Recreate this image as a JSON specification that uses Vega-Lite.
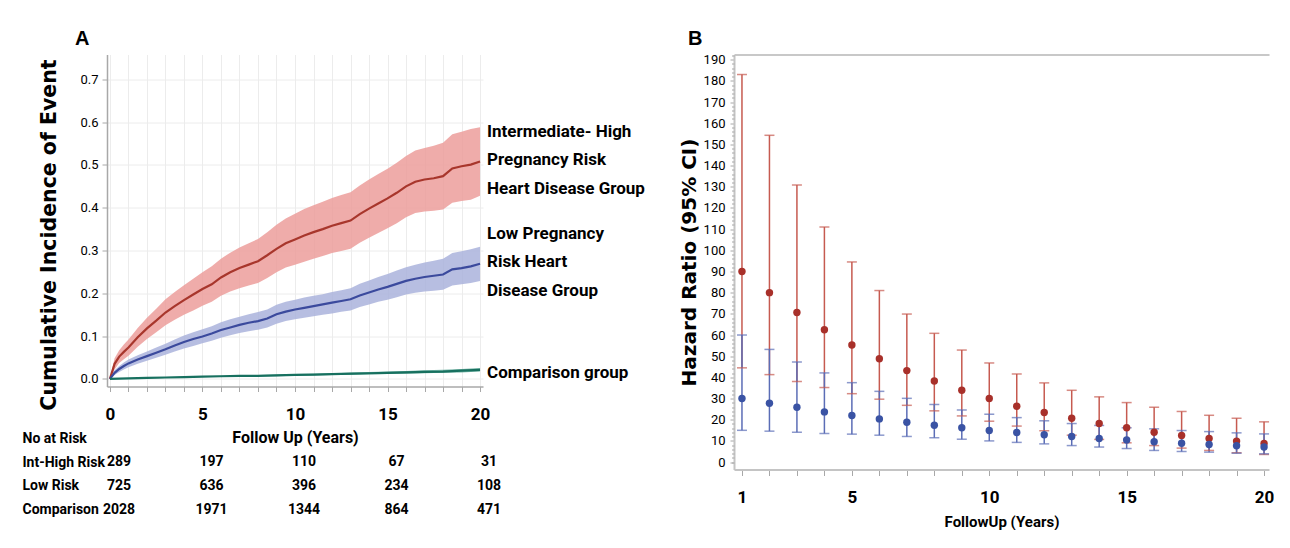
{
  "$schema": "https://vega.github.io/schema/vega-lite/v6.json",
  "background": "white",
  "padding": {"left": 22, "top": 28.5, "right": 0, "bottom": 0},
  "config": {
    "view": {"stroke": null},
    "axis": {"domainColor": "#a8a8a8", "tickColor": "#a8a8a8", "labelColor": "#000000", "titleColor": "#000000", "grid": false, "labelOverlap": false, "labelFlush": false}
  },
  "datasets": {
    "curves": [
      {"g": "High", "t": 0, "est": 0, "lo": 0, "hi": 0},
      {"g": "High", "t": 0.25, "est": 0.035, "lo": 0.022, "hi": 0.048},
      {"g": "High", "t": 0.5, "est": 0.052, "lo": 0.037, "hi": 0.067},
      {"g": "High", "t": 0.75, "est": 0.063, "lo": 0.046, "hi": 0.08},
      {"g": "High", "t": 1, "est": 0.073, "lo": 0.054, "hi": 0.092},
      {"g": "High", "t": 1.5, "est": 0.097, "lo": 0.075, "hi": 0.119},
      {"g": "High", "t": 2, "est": 0.118, "lo": 0.093, "hi": 0.143},
      {"g": "High", "t": 2.5, "est": 0.136, "lo": 0.109, "hi": 0.164},
      {"g": "High", "t": 3, "est": 0.155, "lo": 0.125, "hi": 0.186},
      {"g": "High", "t": 3.5, "est": 0.17, "lo": 0.138, "hi": 0.203},
      {"g": "High", "t": 4, "est": 0.184, "lo": 0.15, "hi": 0.219},
      {"g": "High", "t": 4.5, "est": 0.197, "lo": 0.16, "hi": 0.234},
      {"g": "High", "t": 5, "est": 0.21, "lo": 0.171, "hi": 0.249},
      {"g": "High", "t": 5.5, "est": 0.221, "lo": 0.18, "hi": 0.263},
      {"g": "High", "t": 6, "est": 0.237, "lo": 0.194, "hi": 0.281},
      {"g": "High", "t": 6.5, "est": 0.249, "lo": 0.204, "hi": 0.295},
      {"g": "High", "t": 7, "est": 0.259, "lo": 0.212, "hi": 0.307},
      {"g": "High", "t": 7.5, "est": 0.267, "lo": 0.218, "hi": 0.317},
      {"g": "High", "t": 8, "est": 0.275, "lo": 0.224, "hi": 0.327},
      {"g": "High", "t": 8.5, "est": 0.289, "lo": 0.236, "hi": 0.343},
      {"g": "High", "t": 9, "est": 0.304, "lo": 0.249, "hi": 0.36},
      {"g": "High", "t": 9.5, "est": 0.317, "lo": 0.26, "hi": 0.375},
      {"g": "High", "t": 10, "est": 0.326, "lo": 0.267, "hi": 0.386},
      {"g": "High", "t": 10.5, "est": 0.335, "lo": 0.274, "hi": 0.397},
      {"g": "High", "t": 11, "est": 0.343, "lo": 0.281, "hi": 0.406},
      {"g": "High", "t": 11.5, "est": 0.35, "lo": 0.287, "hi": 0.414},
      {"g": "High", "t": 12, "est": 0.358, "lo": 0.294, "hi": 0.423},
      {"g": "High", "t": 12.5, "est": 0.364, "lo": 0.299, "hi": 0.43},
      {"g": "High", "t": 13, "est": 0.37, "lo": 0.304, "hi": 0.436},
      {"g": "High", "t": 13.5, "est": 0.385, "lo": 0.318, "hi": 0.452},
      {"g": "High", "t": 14, "est": 0.398, "lo": 0.33, "hi": 0.466},
      {"g": "High", "t": 14.5, "est": 0.41, "lo": 0.341, "hi": 0.479},
      {"g": "High", "t": 15, "est": 0.422, "lo": 0.352, "hi": 0.491},
      {"g": "High", "t": 15.5, "est": 0.435, "lo": 0.364, "hi": 0.505},
      {"g": "High", "t": 16, "est": 0.45, "lo": 0.378, "hi": 0.521},
      {"g": "High", "t": 16.5, "est": 0.461, "lo": 0.388, "hi": 0.534},
      {"g": "High", "t": 17, "est": 0.466, "lo": 0.391, "hi": 0.54},
      {"g": "High", "t": 17.5, "est": 0.469, "lo": 0.393, "hi": 0.545},
      {"g": "High", "t": 18, "est": 0.474, "lo": 0.396, "hi": 0.552},
      {"g": "High", "t": 18.5, "est": 0.492, "lo": 0.412, "hi": 0.572},
      {"g": "High", "t": 19, "est": 0.497, "lo": 0.416, "hi": 0.578},
      {"g": "High", "t": 19.5, "est": 0.501, "lo": 0.419, "hi": 0.584},
      {"g": "High", "t": 20, "est": 0.508, "lo": 0.428, "hi": 0.588},
      {"g": "Low", "t": 0, "est": 0, "lo": 0, "hi": 0},
      {"g": "Low", "t": 0.25, "est": 0.014, "lo": 0.009, "hi": 0.02},
      {"g": "Low", "t": 0.5, "est": 0.023, "lo": 0.016, "hi": 0.03},
      {"g": "Low", "t": 0.75, "est": 0.03, "lo": 0.022, "hi": 0.038},
      {"g": "Low", "t": 1, "est": 0.036, "lo": 0.027, "hi": 0.045},
      {"g": "Low", "t": 1.5, "est": 0.045, "lo": 0.035, "hi": 0.055},
      {"g": "Low", "t": 2, "est": 0.053, "lo": 0.042, "hi": 0.064},
      {"g": "Low", "t": 2.5, "est": 0.061, "lo": 0.049, "hi": 0.073},
      {"g": "Low", "t": 3, "est": 0.069, "lo": 0.056, "hi": 0.082},
      {"g": "Low", "t": 3.5, "est": 0.078, "lo": 0.064, "hi": 0.092},
      {"g": "Low", "t": 4, "est": 0.086, "lo": 0.071, "hi": 0.101},
      {"g": "Low", "t": 4.5, "est": 0.093, "lo": 0.077, "hi": 0.109},
      {"g": "Low", "t": 5, "est": 0.099, "lo": 0.083, "hi": 0.116},
      {"g": "Low", "t": 5.5, "est": 0.106, "lo": 0.089, "hi": 0.123},
      {"g": "Low", "t": 6, "est": 0.114, "lo": 0.096, "hi": 0.132},
      {"g": "Low", "t": 6.5, "est": 0.12, "lo": 0.102, "hi": 0.139},
      {"g": "Low", "t": 7, "est": 0.126, "lo": 0.107, "hi": 0.145},
      {"g": "Low", "t": 7.5, "est": 0.131, "lo": 0.111, "hi": 0.151},
      {"g": "Low", "t": 8, "est": 0.135, "lo": 0.115, "hi": 0.156},
      {"g": "Low", "t": 8.5, "est": 0.141, "lo": 0.12, "hi": 0.162},
      {"g": "Low", "t": 9, "est": 0.151, "lo": 0.129, "hi": 0.173},
      {"g": "Low", "t": 9.5, "est": 0.157, "lo": 0.135, "hi": 0.18},
      {"g": "Low", "t": 10, "est": 0.162, "lo": 0.139, "hi": 0.185},
      {"g": "Low", "t": 10.5, "est": 0.166, "lo": 0.143, "hi": 0.19},
      {"g": "Low", "t": 11, "est": 0.17, "lo": 0.146, "hi": 0.194},
      {"g": "Low", "t": 11.5, "est": 0.174, "lo": 0.15, "hi": 0.198},
      {"g": "Low", "t": 12, "est": 0.178, "lo": 0.153, "hi": 0.203},
      {"g": "Low", "t": 12.5, "est": 0.182, "lo": 0.157, "hi": 0.207},
      {"g": "Low", "t": 13, "est": 0.186, "lo": 0.16, "hi": 0.212},
      {"g": "Low", "t": 13.5, "est": 0.195, "lo": 0.168, "hi": 0.222},
      {"g": "Low", "t": 14, "est": 0.202, "lo": 0.174, "hi": 0.23},
      {"g": "Low", "t": 14.5, "est": 0.209, "lo": 0.18, "hi": 0.238},
      {"g": "Low", "t": 15, "est": 0.215, "lo": 0.185, "hi": 0.245},
      {"g": "Low", "t": 15.5, "est": 0.222, "lo": 0.191, "hi": 0.253},
      {"g": "Low", "t": 16, "est": 0.229, "lo": 0.197, "hi": 0.261},
      {"g": "Low", "t": 16.5, "est": 0.234, "lo": 0.201, "hi": 0.267},
      {"g": "Low", "t": 17, "est": 0.238, "lo": 0.204, "hi": 0.272},
      {"g": "Low", "t": 17.5, "est": 0.241, "lo": 0.206, "hi": 0.276},
      {"g": "Low", "t": 18, "est": 0.244, "lo": 0.208, "hi": 0.281},
      {"g": "Low", "t": 18.5, "est": 0.256, "lo": 0.218, "hi": 0.294},
      {"g": "Low", "t": 19, "est": 0.259, "lo": 0.221, "hi": 0.298},
      {"g": "Low", "t": 19.5, "est": 0.263, "lo": 0.224, "hi": 0.303},
      {"g": "Low", "t": 20, "est": 0.269, "lo": 0.229, "hi": 0.309},
      {"g": "Comp", "t": 0, "est": 0, "lo": 0, "hi": 0},
      {"g": "Comp", "t": 1, "est": 0.001, "lo": 0.0, "hi": 0.002},
      {"g": "Comp", "t": 2, "est": 0.002, "lo": 0.001, "hi": 0.003},
      {"g": "Comp", "t": 3, "est": 0.003, "lo": 0.002, "hi": 0.004},
      {"g": "Comp", "t": 4, "est": 0.004, "lo": 0.003, "hi": 0.005},
      {"g": "Comp", "t": 5, "est": 0.005, "lo": 0.004, "hi": 0.006},
      {"g": "Comp", "t": 6, "est": 0.006, "lo": 0.004, "hi": 0.007},
      {"g": "Comp", "t": 7, "est": 0.007, "lo": 0.005, "hi": 0.008},
      {"g": "Comp", "t": 8, "est": 0.007, "lo": 0.006, "hi": 0.009},
      {"g": "Comp", "t": 9, "est": 0.008, "lo": 0.006, "hi": 0.01},
      {"g": "Comp", "t": 10, "est": 0.009, "lo": 0.007, "hi": 0.011},
      {"g": "Comp", "t": 11, "est": 0.01, "lo": 0.008, "hi": 0.012},
      {"g": "Comp", "t": 12, "est": 0.011, "lo": 0.009, "hi": 0.013},
      {"g": "Comp", "t": 13, "est": 0.012, "lo": 0.009, "hi": 0.014},
      {"g": "Comp", "t": 14, "est": 0.013, "lo": 0.01, "hi": 0.016},
      {"g": "Comp", "t": 15, "est": 0.014, "lo": 0.011, "hi": 0.017},
      {"g": "Comp", "t": 16, "est": 0.015, "lo": 0.012, "hi": 0.018},
      {"g": "Comp", "t": 17, "est": 0.016, "lo": 0.013, "hi": 0.02},
      {"g": "Comp", "t": 18, "est": 0.017, "lo": 0.014, "hi": 0.021},
      {"g": "Comp", "t": 19, "est": 0.019, "lo": 0.015, "hi": 0.023},
      {"g": "Comp", "t": 20, "est": 0.021, "lo": 0.017, "hi": 0.025}
    ],
    "labels": [
      {"t": 20, "y": 0.508, "lines": 3, "label": ["Intermediate- High", "Pregnancy Risk", "Heart Disease Group"]},
      {"t": 20, "y": 0.269, "lines": 3, "label": ["Low Pregnancy", "Risk Heart", "Disease Group"]},
      {"t": 20, "y": 0.021, "lines": 1, "label": "Comparison group"}
    ],
    "risk": [
      {"row": "Int-High Risk", "t": 0, "n": "289"},
      {"row": "Int-High Risk", "t": 5, "n": "197"},
      {"row": "Int-High Risk", "t": 10, "n": "110"},
      {"row": "Int-High Risk", "t": 15, "n": "67"},
      {"row": "Int-High Risk", "t": 20, "n": "31"},
      {"row": "Low Risk", "t": 0, "n": "725"},
      {"row": "Low Risk", "t": 5, "n": "636"},
      {"row": "Low Risk", "t": 10, "n": "396"},
      {"row": "Low Risk", "t": 15, "n": "234"},
      {"row": "Low Risk", "t": 20, "n": "108"},
      {"row": "Comparison", "t": 0, "n": "2028"},
      {"row": "Comparison", "t": 5, "n": "1971"},
      {"row": "Comparison", "t": 10, "n": "1344"},
      {"row": "Comparison", "t": 15, "n": "864"},
      {"row": "Comparison", "t": 20, "n": "471"}
    ],
    "hr": [
      {"g": "High", "year": 1, "hr": 90, "lo": 44.5, "hi": 183},
      {"g": "High", "year": 2, "hr": 80, "lo": 41.3, "hi": 154.3},
      {"g": "High", "year": 3, "hr": 70.6, "lo": 38.1, "hi": 130.8},
      {"g": "High", "year": 4, "hr": 62.5, "lo": 35.2, "hi": 111},
      {"g": "High", "year": 5, "hr": 55.3, "lo": 32.3, "hi": 94.5},
      {"g": "High", "year": 6, "hr": 48.8, "lo": 29.7, "hi": 81},
      {"g": "High", "year": 7, "hr": 43.2, "lo": 26.8, "hi": 69.9},
      {"g": "High", "year": 8, "hr": 38.3, "lo": 24.2, "hi": 60.8},
      {"g": "High", "year": 9, "hr": 33.9, "lo": 21.8, "hi": 52.9},
      {"g": "High", "year": 10, "hr": 30, "lo": 19.3, "hi": 46.8},
      {"g": "High", "year": 11, "hr": 26.4, "lo": 17, "hi": 41.6},
      {"g": "High", "year": 12, "hr": 23.4, "lo": 14.8, "hi": 37.4},
      {"g": "High", "year": 13, "hr": 20.7, "lo": 12.7, "hi": 33.9},
      {"g": "High", "year": 14, "hr": 18.2, "lo": 10.7, "hi": 30.8},
      {"g": "High", "year": 15, "hr": 16.2, "lo": 9.1, "hi": 28.1},
      {"g": "High", "year": 16, "hr": 14.1, "lo": 7.8, "hi": 25.9},
      {"g": "High", "year": 17, "hr": 12.6, "lo": 6.6, "hi": 23.9},
      {"g": "High", "year": 18, "hr": 11.1, "lo": 5.5, "hi": 22.1},
      {"g": "High", "year": 19, "hr": 9.9, "lo": 4.4, "hi": 20.7},
      {"g": "High", "year": 20, "hr": 8.8, "lo": 3.6, "hi": 19},
      {"g": "Low", "year": 1, "hr": 30, "lo": 15, "hi": 60},
      {"g": "Low", "year": 2, "hr": 27.8, "lo": 14.6, "hi": 53.2},
      {"g": "Low", "year": 3, "hr": 25.9, "lo": 14.1, "hi": 47.3},
      {"g": "Low", "year": 4, "hr": 23.7, "lo": 13.5, "hi": 42.1},
      {"g": "Low", "year": 5, "hr": 22, "lo": 13.2, "hi": 37.5},
      {"g": "Low", "year": 6, "hr": 20.4, "lo": 12.7, "hi": 33.4},
      {"g": "Low", "year": 7, "hr": 18.8, "lo": 12.1, "hi": 30.1},
      {"g": "Low", "year": 8, "hr": 17.4, "lo": 11.5, "hi": 27.2},
      {"g": "Low", "year": 9, "hr": 16.2, "lo": 10.8, "hi": 24.6},
      {"g": "Low", "year": 10, "hr": 14.9, "lo": 10, "hi": 22.6},
      {"g": "Low", "year": 11, "hr": 14, "lo": 9.3, "hi": 21},
      {"g": "Low", "year": 12, "hr": 12.9, "lo": 8.6, "hi": 19.5},
      {"g": "Low", "year": 13, "hr": 12.1, "lo": 7.8, "hi": 18.2},
      {"g": "Low", "year": 14, "hr": 11.1, "lo": 7.1, "hi": 17.3},
      {"g": "Low", "year": 15, "hr": 10.4, "lo": 6.4, "hi": 16.2},
      {"g": "Low", "year": 16, "hr": 9.6, "lo": 5.5, "hi": 15.7},
      {"g": "Low", "year": 17, "hr": 8.9, "lo": 5, "hi": 14.9},
      {"g": "Low", "year": 18, "hr": 8.3, "lo": 4.7, "hi": 14.4},
      {"g": "Low", "year": 19, "hr": 7.7, "lo": 4.2, "hi": 13.8},
      {"g": "Low", "year": 20, "hr": 7.1, "lo": 3.9, "hi": 13.3}
    ]
  },
  "spacing": 34,
  "hconcat": [
    {
      "spacing": 4,
      "vconcat": [
        {
          "title": {"text": "A", "anchor": "start", "frame": "group", "dx": -32, "offset": 6, "fontSize": 20, "font": "Liberation Sans", "fontWeight": "bold", "color": "#000000"},
          "width": 376,
          "height": 332,
          "data": {"name": "curves"},
          "resolve": {"axis": {"x": "independent"}},
          "layer": [
            {
              "mark": {"type": "area", "opacity": 0.85},
              "encoding": {
                "x": {"field": "t", "type": "quantitative",
                  "scale": {"domain": [-0.16, 20.16], "nice": false, "zero": false},
                  "axis": {"orient": "bottom", "grid": true, "gridColor": "#ececec", "values": [0,1,2,3,4,5,6,7,8,9,10,11,12,13,14,15,16,17,18,19,20], "labels": false, "ticks": false, "domain": false, "title": null}},
                "y": {"field": "lo", "type": "quantitative",
                  "scale": {"domain": [-0.018, 0.7584], "nice": false, "zero": false},
                  "axis": {"values": [0, 0.1, 0.2, 0.3, 0.4, 0.5, 0.6, 0.7], "format": ".1f", "grid": true, "gridColor": "#ececec", "tickSize": 5, "labelPadding": 4, "labelFontSize": 13, "labelFont": "Roboto", "title": "Cumulative Incidence of Event", "titleFontSize": 20.5, "titleFont": "DejaVu Sans", "titleFontWeight": "bold", "titlePadding": 20, "titleY": 180, "domainWidth": 1.5}},
                "y2": {"field": "hi"},
                "fill": {"field": "g", "type": "nominal", "scale": {"domain": ["High", "Low", "Comp"], "range": ["#ec9d9b", "#aab3dc", "#5fa898"]}, "legend": null}
              }
            },
            {
              "mark": {"type": "line", "strokeWidth": 2.2},
              "encoding": {
                "x": {"field": "t", "type": "quantitative",
                  "axis": {"orient": "bottom", "values": [0,1,2,3,4,5,6,7,8,9,10,11,12,13,14,15,16,17,18,19,20], "labelExpr": "datum.value % 5 === 0 ? datum.label : ''", "format": "d", "grid": false, "tickSize": 5, "labelPadding": 15, "labelFontSize": 17, "labelFontWeight": "bold", "labelFont": "Roboto", "title": null, "domainWidth": 1.5, "labelFlush": false, "labelOverlap": false}},
                "y": {"field": "est", "type": "quantitative"},
                "stroke": {"field": "g", "type": "nominal", "scale": {"domain": ["High", "Low", "Comp"], "range": ["#a8362c", "#3b4a9d", "#17705f"]}, "legend": null}
              }
            },
            {
              "data": {"name": "labels"},
              "transform": [{"filter": {"field": "lines", "equal": 3}}],
              "mark": {"type": "text", "align": "left", "baseline": "middle", "dx": 7, "dy": -30, "fontSize": 17, "fontWeight": "bold", "font": "Roboto", "lineHeight": 28.5, "lineBreak": "\n", "color": "#000000"},
              "encoding": {
                "x": {"field": "t", "type": "quantitative", "axis": null},
                "y": {"field": "y", "type": "quantitative"},
                "text": {"field": "label", "type": "nominal"}
              }
            },
            {
              "data": {"name": "labels"},
              "transform": [{"filter": {"field": "lines", "equal": 1}}],
              "mark": {"type": "text", "align": "left", "baseline": "middle", "dx": 7, "dy": 3, "fontSize": 17, "fontWeight": "bold", "font": "Roboto", "color": "#000000"},
              "encoding": {
                "x": {"field": "t", "type": "quantitative", "axis": null},
                "y": {"field": "y", "type": "quantitative"},
                "text": {"field": "label", "type": "nominal"}
              }
            }
          ]
        },
        {
          "width": 376,
          "height": 95,
          "data": {"name": "risk"},
          "mark": {"type": "text", "dx": 9, "fontSize": 14, "fontWeight": "bold", "font": "Roboto", "color": "#000000"},
          "encoding": {
            "x": {"field": "t", "type": "quantitative", "scale": {"domain": [-0.16, 20.16], "nice": false, "zero": false},
              "axis": {"orient": "top", "domain": false, "ticks": false, "labels": false, "grid": false, "title": "Follow Up (Years)", "titleFontSize": 16, "titleFontWeight": "bold", "titleFont": "Roboto", "titlePadding": -19}},
            "y": {"field": "row", "type": "nominal", "scale": {"domain": ["No at Risk", "Int-High Risk", "Low Risk", "Comparison"]},
              "axis": {"title": null, "domain": false, "ticks": false, "tickSize": 0, "labelAlign": "left", "labelPadding": 85, "labelFontSize": 14, "labelFontWeight": "bold", "labelFont": "Roboto", "labelColor": "#000000"}},
            "text": {"field": "n", "type": "nominal"}
          }
        }
      ]
    },
    {
      "title": {"text": "B", "anchor": "start", "frame": "group", "dx": -46, "offset": 5, "fontSize": 20, "font": "Liberation Sans", "fontWeight": "bold", "color": "#000000"},
      "width": 535,
      "height": 415,
      "data": {"name": "hr"},
      "resolve": {"axis": {"x": "independent", "y": "independent"}},
      "layer": [
        {
          "mark": {"type": "rule", "strokeWidth": 1.5},
          "encoding": {
            "x": {"field": "year", "type": "quantitative",
              "scale": {"domain": [0.71, 20.18], "nice": false, "zero": false},
              "axis": {"values": [1,2,3,4,5,6,7,8,9,10,11,12,13,14,15,16,17,18,19,20], "labelExpr": "datum.value === 1 || datum.value % 5 === 0 ? datum.label : ''", "format": "d", "tickSize": 6, "labelPadding": 14, "labelFontSize": 17, "labelFontWeight": "bold", "labelFont": "Roboto", "title": "FollowUp (Years)", "titleFontSize": 15, "titleFontWeight": "bold", "titleFont": "Roboto", "titlePadding": 9, "domainWidth": 2, "domainColor": "#c4c4c4", "labelFlush": false, "labelOverlap": false}},
            "y": {"field": "lo", "type": "quantitative",
              "scale": {"domain": [-3.5, 192.45], "nice": false, "zero": false},
              "axis": {"values": [0,10,20,30,40,50,60,70,80,90,100,110,120,130,140,150,160,170,180,190], "tickSize": 4, "labelPadding": 5, "labelFontSize": 13, "labelFont": "Roboto", "title": "Hazard Ratio (95% CI)", "titleFontSize": 20, "titleFont": "DejaVu Sans", "titleFontWeight": "bold", "titlePadding": 4, "domainWidth": 2, "domainColor": "#c4c4c4", "labelOverlap": false}},
            "y2": {"field": "hi"},
            "color": {"field": "g", "type": "nominal", "scale": {"domain": ["High", "Low"], "range": ["#c65a50", "#5b6db6"]}, "legend": null}
          }
        },
        {
          "mark": {"type": "tick", "orient": "horizontal", "size": 10, "thickness": 1.5},
          "encoding": {
            "x": {"field": "year", "type": "quantitative", "axis": null},
            "y": {"field": "lo", "type": "quantitative", "axis": null},
            "color": {"field": "g", "type": "nominal", "legend": null}
          }
        },
        {
          "mark": {"type": "tick", "orient": "horizontal", "size": 10, "thickness": 1.5},
          "encoding": {
            "x": {"field": "year", "type": "quantitative", "axis": null},
            "y": {"field": "hi", "type": "quantitative", "axis": null},
            "color": {"field": "g", "type": "nominal", "legend": null}
          }
        },
        {
          "transform": [{"filter": {"field": "g", "equal": "High"}}],
          "mark": {"type": "point", "filled": true, "size": 55, "opacity": 1, "fillOpacity": 1, "color": "#a8302a"},
          "encoding": {
            "x": {"field": "year", "type": "quantitative", "axis": null},
            "y": {"field": "hr", "type": "quantitative", "axis": null}
          }
        },
        {
          "transform": [{"filter": {"field": "g", "equal": "Low"}}],
          "mark": {"type": "point", "filled": true, "size": 55, "opacity": 1, "fillOpacity": 1, "color": "#3a53a4"},
          "encoding": {
            "x": {"field": "year", "type": "quantitative", "axis": null},
            "y": {"field": "hr", "type": "quantitative", "axis": null}
          }
        },
        {
          "mark": {"type": "point", "opacity": 0},
          "encoding": {
            "x": {"field": "year", "type": "quantitative",
              "axis": {"orient": "top", "labels": false, "ticks": false, "title": null, "domainWidth": 2, "domainColor": "#c8c8c8"}},
            "y": {"field": "hr", "type": "quantitative",
              "axis": {"orient": "left", "values": [0,2,4,6,8,12,14,16,18,22,24,26,28,32,34,36,38,42,44,46,48,52,54,56,58,62,64,66,68,72,74,76,78,82,84,86,88,92,94,96,98,102,104,106,108,112,114,116,118,122,124,126,128,132,134,136,138,142,144,146,148,152,154,156,158,162,164,166,168,172,174,176,178,182,184,186,188,192], "labels": false, "tickSize": 2.5, "domain": false, "title": null, "grid": false}}
          }
        }
      ]
    }
  ]
}
